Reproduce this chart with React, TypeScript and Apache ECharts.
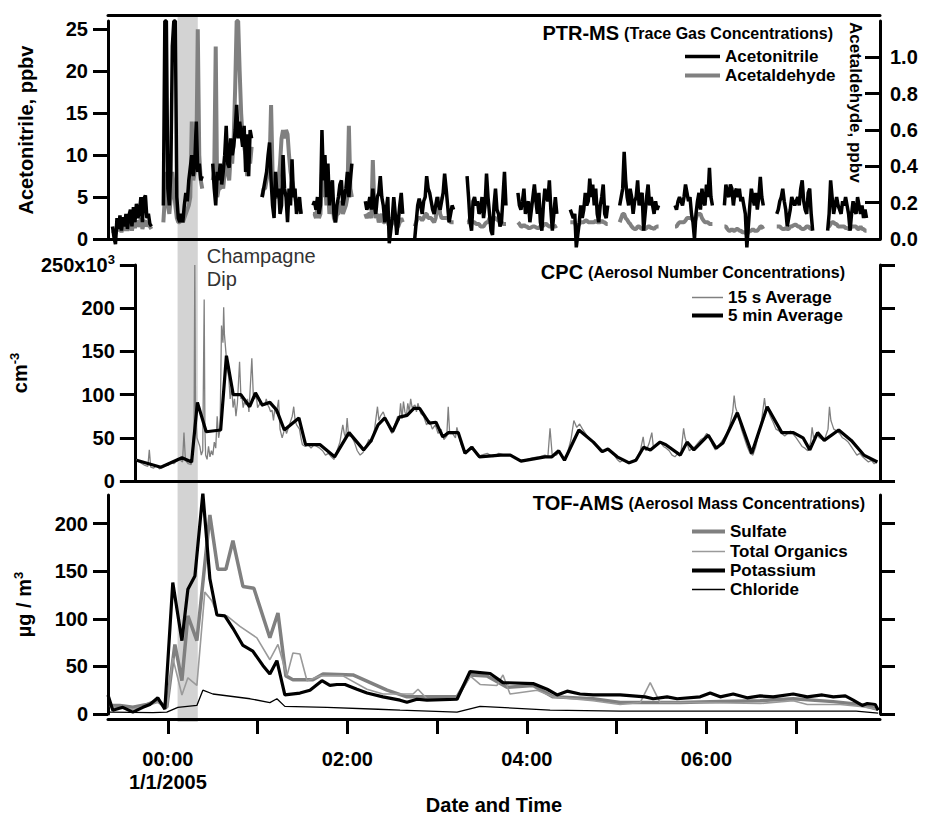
import React, { useEffect, useRef } from 'react';
import * as echarts from 'echarts';

const FONT = '"Liberation Sans", Arial, Helvetica, sans-serif';

// ---------- Time axis (minutes relative to 00:00, 1/1/2005) ----------
const timeMin = -40;
const timeMax = 476;
const hourTicks = [0, 60, 120, 180, 240, 300, 360, 420];
const timeLabelValues = [0, 120, 240, 360];
const timeLabels = ['00:00\n1/1/2005', '02:00', '04:00', '06:00'];
const champagneDip = [6.5, 20];

// ---------- Tick values ----------
const acetonitrileTicks = [0, 5, 10, 15, 20, 25];
const acetaldehydeTicks = [0, 0.2, 0.4, 0.6, 0.8, 1.0];
const cpcTicks = [0, 50, 100, 150, 200, 250];
const amsTicks = [0, 50, 100, 150, 200];

// ---------- PTR-MS (1-min samples per measurement segment) ----------
const ptrSegmentStarts = [-37, -3, 30, 63, 97, 132, 165, 200, 234, 269, 302, 339, 372, 407, 441];

const acetonitrileSegments: number[][] = [
  [1.5, 0.2, -0.6, 2.5, 1.2, 2.8, 1.0, 2.6, 1.5, 3.0, 1.2, 2.8, 3.5, 1.5, 3.8, 2.0, 4.2, 2.5, 3.2, 5.0, 2.0, 4.8, 5.2, 2.5, 3.0, 1.8, 1.5],
  [4, 26, 26, 6, 4, 8, 23, 26, 26, 5, 2.5, 2, 3, 2, 4, 5.5, 4.5, 7, 8.5, 10, 7.5, 9, 14, 8, 9, 7, 7.5],
  [9, 6, 4, 8, 7, 9, 6.5, 8, 10, 13.5, 9, 8.5, 12, 10, 11, 13, 16, 12, 14, 12.5, 11, 13.5, 8, 12.5, 7.5, 13, 12],
  [5, 6, 7, 8, 10, 11.5, 7, 4, 2.5, 8, 5, 6, 3, 4, 10, 6, 5, 2, 6, 4, 9.5, 5, 6, 3, 4, 5, 3],
  [4, 4.5, 3.5, 5, 3, 4, 13, 7, 10, 5, 9, 4, 6, 7, 3, 2, 4, 5, 6.5, 7, 4, 5, 6, 8, 5, 7, 9],
  [4.5, 3.5, 4, 5, 3.5, 6, 4, 3, 5, 5.5, 7.5, 5, 4, 2, 3.5, 5, -0.5, 1, 2.5, 5, 3, 0.5, 2, 4, 5.5, 3],
  [0, 2, 4, 4.8, 4, 3, 4.5, 5, 7.5, 6, 5.5, 4.5, 3.5, 3, 4, 5, 4, 3.5, 4.5, 5.5, 7.8, 6, 4, 2, 3, 4, 3.5],
  [7.5, 5, 2, 1, 4.5, 5, 4, 4.5, 3, 3.5, 5, 2.5, 4, 7.8, 5, 3, 1, 0.5, 4, 6, 3.5, 3, 1.5, 2, 5, 8, 4],
  [5.5, 4, 3.5, 4.5, 6, 3, 4, 4.5, 2, 3.5, 5, 6.5, 4.5, 3, 5.5, 2, 1, 4, 6, 5, 4.5, 7, 3.5, 1, 3, 5, 3],
  [3.5, 3, 2.5, 3, -1, 0.5, 2, 4, 2.5, 3.5, 5.5, 4, 4.5, 7.2, 5, 6.5, 4, 6, 3, 2, 4, 5, 6.5, 3, 2.5, 4],
  [4, 5, 6, 10.4, 7, 5, 4, 6, 5, 3, 4.5, 5, 7, 4, 5, 5.5, 1, 3, 5, 6.5, 4, 5, 4, 3, 4.5, 3.5, 4],
  [4, 3.5, 4.5, 5, 4.5, 4, 5, 6.5, 5.5, 4.5, 5, 3, 2, 0, 3, 4.5, 5.5, 3.5, 6, 4.5, 4, 6.5, 5, 8.5, 5, 4],
  [4, 6.5, 5.5, 5, 6.5, 6, 4, 5.5, 6, 5, 6, 4.5, 5, 4, 3, -1, 1.5, 4, 6, 5, 4, 5.5, 3.5, 5, 7.4, 5, 4],
  [3, 3.5, 4.5, 5, 6, 4.5, 3.5, 1.5, 2.5, 3.5, 5, 4.5, 4, 4.5, 5, 4, 6, 7, 4.5, 3.5, 3, 5.5, 6, 3, 1],
  [1, 3, 7, 5, 3, 4, 5, 4, 3.5, 3, 4.5, 4, 5, 4, 3, 1, 3, 4.5, 3.5, 3, 5, 4, 3, 4, 2.5, 3.5, 2.5],
];

const acetaldehydeSegments: number[][] = [
  [0.046, 0.037, 0.028, 0.055, 0.046, 0.069, 0.037, 0.065, 0.046, 0.083, 0.046, 0.069, 0.092, 0.046, 0.092, 0.06, 0.102, 0.069, 0.083, 0.115, 0.055, 0.092, 0.102, 0.069, 0.092, 0.069, 0.055],
  [0.092, 0.231, 0.369, 0.185, 0.138, 0.231, 0.369, 0.277, 0.185, 0.115, 0.092, 0.092, 0.115, 0.092, 0.115, 0.138, 0.162, 0.185, 0.231, 0.646, 0.323, 0.369, 0.415, 1.154, 0.462, 0.323, 0.277],
  [0.323, 0.369, 1.06, 0.231, 0.277, 0.277, 0.323, 0.277, 0.369, 0.415, 0.369, 0.323, 0.462, 0.415, 0.554, 0.831, 1.2, 1.2, 0.923, 0.692, 0.554, 0.508, 0.462, 0.346, 0.508, 0.415, 0.508],
  [0.231, 0.277, 0.277, 0.323, 0.369, 0.415, 0.738, 0.369, 0.277, 0.231, 0.231, 0.323, 0.415, 0.554, 0.6, 0.554, 0.6, 0.577, 0.462, 0.369, 0.323, 0.277, 0.231, 0.185, 0.162, 0.185, 0.138],
  [0.138, 0.138, 0.115, 0.185, 0.115, 0.138, 0.369, 0.231, 0.323, 0.185, 0.277, 0.138, 0.185, 0.208, 0.115, 0.092, 0.138, 0.138, 0.185, 0.208, 0.138, 0.162, 0.185, 0.231, 0.623, 0.277, 0.231],
  [0.138, 0.115, 0.138, 0.138, 0.115, 0.434, 0.185, 0.115, 0.138, 0.092, 0.115, 0.138, 0.092, 0.092, 0.115, 0.092, 0.069, 0.069, 0.092, 0.115, 0.092, 0.069, 0.069, 0.092, 0.115, 0.092],
  [0.069, 0.092, 0.115, 0.115, 0.115, 0.102, 0.115, 0.138, 0.138, 0.115, 0.115, 0.115, 0.102, 0.092, 0.115, 0.185, 0.231, 0.138, 0.115, 0.115, 0.115, 0.115, 0.115, 0.102, 0.092, 0.092, 0.092],
  [0.092, 0.092, 0.115, 0.092, 0.092, 0.092, 0.083, 0.083, 0.083, 0.069, 0.069, 0.069, 0.083, 0.092, 0.092, 0.115, 0.115, 0.102, 0.115, 0.115, 0.106, 0.102, 0.092, 0.092, 0.083, 0.083, 0.083],
  [0.092, 0.083, 0.069, 0.069, 0.078, 0.069, 0.069, 0.06, 0.06, 0.065, 0.069, 0.069, 0.065, 0.06, 0.06, 0.069, 0.069, 0.074, 0.083, 0.083, 0.074, 0.069, 0.069, 0.065, 0.069, 0.069, 0.074],
  [0.092, 0.092, 0.092, 0.092, 0.069, 0.069, 0.083, 0.092, 0.092, 0.092, 0.102, 0.102, 0.092, 0.092, 0.092, 0.092, 0.092, 0.102, 0.092, 0.092, 0.092, 0.102, 0.092, 0.092, 0.083, 0.083],
  [0.092, 0.115, 0.138, 0.138, 0.115, 0.106, 0.092, 0.083, 0.069, 0.06, 0.055, 0.055, 0.069, 0.069, 0.06, 0.055, 0.055, 0.055, 0.06, 0.069, 0.069, 0.06, 0.06, 0.055, 0.065, 0.069, 0.069],
  [0.069, 0.069, 0.083, 0.092, 0.092, 0.092, 0.092, 0.102, 0.115, 0.115, 0.115, 0.115, 0.102, 0.092, 0.115, 0.138, 0.138, 0.138, 0.115, 0.102, 0.092, 0.092, 0.092, 0.083, 0.083, 0.083],
  [0.069, 0.069, 0.055, 0.046, 0.046, 0.055, 0.046, 0.046, 0.055, 0.055, 0.046, 0.046, 0.037, 0.037, 0.037, 0.023, 0.037, 0.046, 0.046, 0.055, 0.046, 0.046, 0.046, 0.055, 0.069, 0.069, 0.055],
  [0.069, 0.069, 0.069, 0.06, 0.055, 0.055, 0.06, 0.055, 0.055, 0.069, 0.069, 0.074, 0.078, 0.078, 0.069, 0.069, 0.06, 0.055, 0.055, 0.06, 0.069, 0.069, 0.06, 0.055, 0.055],
  [0.069, 0.069, 0.083, 0.092, 0.092, 0.083, 0.083, 0.069, 0.069, 0.069, 0.069, 0.069, 0.06, 0.06, 0.055, 0.055, 0.069, 0.069, 0.069, 0.069, 0.055, 0.055, 0.069, 0.055, 0.055, 0.046, 0.046],
];

// ---------- CPC (thousand particles per cm3) ----------
const cpc5min: number[][] = [
  [-38.8, 24], [-22, 16], [-7.4, 27], [-0.7, 22], [3.3, 91], [9.4, 57], [19.4, 59], [23.4, 145],
  [28.1, 100], [33.4, 100], [39.5, 86], [43.5, 102], [48.2, 88], [53.5, 91], [58.2, 82], [63.5, 59],
  [73.6, 73], [78.2, 42], [88.3, 42], [98.3, 28], [108.3, 56], [118.4, 36], [123.7, 47], [128.4, 65],
  [133.1, 73], [138.4, 57], [143.1, 74], [148.5, 76], [153.2, 84], [157.2, 84], [163.9, 67], [168.5, 68],
  [173.2, 51], [177.2, 56], [183.9, 56], [188.6, 32], [193.3, 39], [198.6, 28], [213.3, 30], [220, 30],
  [227.4, 23], [244.1, 28], [248.8, 28], [253.5, 35], [257.5, 24], [267.5, 59], [277.5, 45], [283.6, 34],
  [287.6, 37], [294, 28], [302.3, 21], [307, 24], [312.3, 39], [317, 36], [323.7, 45], [327.7, 42],
  [337.7, 30], [342.4, 45], [347.1, 36], [357.1, 53], [362.5, 38], [367.2, 44], [377.2, 79], [387.2, 32],
  [397.9, 86], [408, 56], [416, 56], [422.7, 50], [427.4, 36], [432.8, 56], [437.4, 47], [447.4, 59],
  [456.1, 47], [464.8, 30], [474.2, 22],
];

const cpc15s: number[][] = [
  [-39, 25], [-37, 22], [-35, 20], [-33, 18], [-31, 17], [-30, 36], [-29, 16], [-27, 15], [-25, 18], [-23, 14],
  [-21, 17], [-19, 19], [-17, 18], [-15, 22], [-13, 20], [-11, 23], [-9, 25], [-7, 22], [-6, 56], [-5, 24],
  [-3, 20], [-1, 19], [0, 40], [1, 60], [1.5, 250], [2, 80], [3, 50], [4, 45], [5, 40], [6, 30], [7, 35],
  [8, 210], [8.5, 60], [9, 30], [10, 25], [11, 40], [12, 28], [13, 35], [14, 30], [15, 45], [16, 38], [17, 75],
  [18, 50], [19, 60], [20, 180], [21, 160], [21.5, 201], [22, 170], [23, 150], [24, 130], [25, 120], [26, 95],
  [27, 110], [28, 85], [29, 95], [30, 75], [31, 90], [32.5, 138], [33.5, 95], [34, 100], [35, 85], [36, 92],
  [37, 88], [38, 95], [39, 80], [41, 142], [42, 100], [43, 95], [44, 100], [45, 85], [46, 88], [47, 92],
  [48, 86], [49, 90], [50, 88], [51, 95], [52, 88], [53, 85], [54, 80], [55, 82], [56, 70], [57, 85], [58, 78],
  [59.5, 94], [60.5, 60], [62, 50], [64, 62], [65, 55], [67, 65], [69, 75], [70, 86], [71, 70], [72, 65],
  [74, 60], [75, 50], [76, 42], [78, 40], [80, 42], [82, 38], [84, 42], [86, 40], [88, 38], [90, 35], [92, 30],
  [94, 32], [96, 28], [98, 25], [100, 35], [102, 45], [103, 55], [104, 65], [105, 55], [106, 50], [107, 73],
  [108, 52], [110, 52], [112, 45], [114, 35], [116, 30], [118, 33], [120, 40], [122, 48], [124, 45], [126, 60],
  [128, 86], [129, 70], [130, 75], [132, 80], [134, 70], [136, 62], [138, 55], [140, 65], [142, 75], [143, 70],
  [144, 90], [145, 72], [146, 92], [147, 80], [148, 75], [149, 90], [150, 80], [151, 95], [152, 85], [154, 88],
  [155, 80], [156, 90], [157, 84], [158, 78], [160, 75], [162, 65], [164, 70], [166, 60], [168, 65], [170, 55],
  [172, 60], [174, 48], [176, 52], [177, 86], [178, 55], [180, 55], [182, 50], [183, 62], [184, 55], [186, 42],
  [188, 35], [190, 35], [192, 38], [194, 40], [196, 32], [198, 28], [200, 30], [204, 32], [208, 28], [212, 32],
  [216, 30], [220, 30], [224, 26], [228, 24], [232, 25], [236, 27], [240, 28], [244, 30], [246, 28], [247.5, 61],
  [249, 30], [252, 30], [254, 34], [256, 28], [258, 24], [260, 35], [262, 48], [264, 70], [266, 62], [268, 66],
  [270, 60], [272, 55], [274, 50], [276, 47], [278, 44], [280, 40], [282, 35], [284, 33], [286, 35], [288, 37],
  [290, 33], [292, 30], [294, 25], [296, 22], [298, 24], [300, 22], [302, 20], [304, 22], [306, 24], [308, 28],
  [310, 35], [312, 51], [313, 38], [314, 35], [316, 43], [318, 56], [319, 40], [320, 40], [322, 42], [324, 45],
  [326, 40], [328, 38], [330, 35], [332, 30], [334, 28], [336, 32], [338, 30], [340, 61], [341, 50], [342, 45],
  [344, 35], [346, 38], [348, 40], [350, 44], [352, 48], [354, 50], [356, 55], [358, 52], [360, 42], [362, 36],
  [364, 40], [366, 45], [368, 50], [370, 55], [372, 65], [374, 80], [375, 99], [376, 85], [378, 75], [380, 60],
  [382, 50], [384, 40], [386, 32], [388, 30], [390, 40], [392, 55], [394, 70], [396, 96], [397, 82], [398, 85],
  [400, 75], [402, 68], [404, 60], [406, 58], [408, 55], [410, 52], [412, 55], [414, 58], [416, 54], [418, 50],
  [420, 45], [422, 40], [424, 38], [426, 35], [428, 45], [429, 62], [430, 50], [432, 55], [434, 50], [436, 48],
  [438, 50], [440, 60], [441, 86], [442, 70], [443, 65], [444, 60], [446, 58], [448, 55], [450, 50], [452, 48],
  [454, 45], [456, 40], [458, 35], [460, 30], [462, 32], [464, 28], [466, 25], [468, 22], [470, 24], [472, 20],
  [474, 22],
];

// ---------- TOF-AMS (µg/m3) ----------
const sulfate: number[][] = [
  [-38.8, 9], [-32.1, 9], [-23.4, 7], [-14, 10], [-6.7, 14], [-0.7, 7], [4.7, 73], [9.4, 35], [13.4, 103],
  [19.4, 77], [28.1, 209], [33.4, 152], [38.8, 152], [43.5, 182], [50.2, 134], [57.5, 132], [68.2, 80],
  [73.6, 106], [78.9, 40], [83.6, 36], [97, 36], [103.7, 42], [123.7, 41], [146.5, 25], [159.8, 18],
  [193.3, 18], [202, 41], [213.3, 40], [226.7, 28], [244.1, 30], [257.5, 18], [284.2, 16], [302.3, 12],
  [322.4, 12], [342.4, 12], [369.2, 13], [395.9, 14], [418, 16], [444.8, 13], [462.8, 10], [474.8, 5],
];

const totalOrganics: number[][] = [
  [-38.8, 8], [-32.1, 6], [-23.4, 5], [-14, 9], [-6.7, 12], [-0.7, 6], [3.3, 59], [9.4, 20], [13.4, 38],
  [19.4, 30], [24.7, 128], [29.4, 119], [33.4, 103], [39.5, 103], [48.2, 92], [59.5, 80], [68.2, 57],
  [73.6, 73], [79.6, 40], [83.6, 64], [88.3, 63], [93, 35], [101.7, 40], [117, 40], [133.1, 26],
  [143.8, 21], [163.9, 21], [167.2, 26], [173.2, 16], [193.3, 16], [202, 40], [208.7, 31], [220, 30],
  [224, 41], [228.7, 21], [246.8, 25], [257.5, 18], [284.2, 14], [302.3, 10], [315.7, 12], [322.4, 33],
  [329, 12], [355.8, 12], [395.9, 11], [418, 14], [427.4, 10], [449.4, 10], [462.8, 8], [474.8, 5],
];

const potassium: number[][] = [
  [-40, 20], [-36.8, 4], [-30.1, 7], [-23.4, 2], [-16.7, 7], [-12, 10], [-6.7, 17], [-2, 5], [3.3, 138],
  [9.4, 77], [13.4, 131], [18.1, 145], [23.4, 232], [28.1, 142], [32.8, 104], [38.1, 103], [43.5, 90],
  [50.2, 72], [56.8, 66], [63.5, 51], [68.2, 42], [72.9, 56], [78.2, 20], [88.3, 22], [95, 25], [103, 35],
  [108.3, 30], [113, 31], [118.4, 31], [126.4, 26], [133.1, 22], [143.8, 18], [155.2, 14.5], [159.8, 12.4],
  [166.5, 15.5], [173.2, 14.5], [193.3, 15.5], [202, 44.6], [215.4, 42.5], [224, 33], [244.1, 32],
  [253.5, 26], [260.2, 20], [266.9, 24], [275.5, 21], [284.2, 20], [302.3, 20], [319, 18], [324.4, 16],
  [333.7, 18], [340.4, 16], [355.8, 18], [362.5, 22], [369.2, 18], [377.9, 21], [387.2, 17], [395.9, 19],
  [404.6, 18], [418, 21], [427.4, 18], [437.4, 20], [444.8, 18], [452.8, 19], [458.1, 14.5], [464.1, 9],
  [467.5, 11], [472.8, 10], [474.8, 4],
];

const chloride: number[][] = [
  [-38.8, 2], [-10, 1.5], [-0.7, 2], [6.7, 7], [19.4, 9], [23.4, 25], [30.1, 21], [55, 16], [68.2, 12],
  [72.9, 16], [78.2, 8], [106.3, 7], [140.5, 5], [155.2, 4], [193.3, 2], [208.7, 8], [222, 7], [255.5, 4],
  [302.3, 3], [400, 3], [460, 3], [474.8, 1],
];

function segmentsToData(starts: number[], segs: number[][]) {
  const out: (number | null)[][] = [];
  segs.forEach((vals, i) => {
    vals.forEach((v, j) => out.push([starts[i] + j, v]));
    out.push([starts[i] + vals.length - 0.5, null]);
  });
  return out;
}

const BLACK = '#000000';
const GRAY = '#808080';
const LIGHTGRAY = '#9a9a9a';

const axisLineStyle = { color: BLACK, width: 3 };
const tickLabelStyle = { fontFamily: FONT, fontSize: 20, fontWeight: 'bold' as const, color: BLACK };

function xAxisPlain(gridIndex: number, extra: any = {}) {
  return {
    type: 'value', gridIndex, min: timeMin, max: timeMax,
    axisLine: { show: true, onZero: false, lineStyle: axisLineStyle },
    axisTick: { show: false }, axisLabel: { show: false }, splitLine: { show: false },
    ...extra,
  };
}

function yAxisDef(gridIndex: number, position: string, min: number, max: number, ticks: number[], opts: any = {}) {
  return {
    type: 'value', gridIndex, position, min, max,
    axisLine: { show: true, onZero: false, lineStyle: axisLineStyle },
    axisTick: { show: true, length: 15, inside: !!opts.inside, lineStyle: axisLineStyle, customValues: ticks },
    axisLabel: {
      show: opts.labels !== false, customValues: ticks, margin: opts.margin ?? 20,
      formatter: opts.formatter, ...tickLabelStyle, rich: opts.rich,
    },
    splitLine: { show: false },
    name: opts.name, nameLocation: 'middle', nameGap: opts.nameGap ?? 72,
    nameTextStyle: opts.nameTextStyle ?? { ...tickLabelStyle },
  };
}

function legendAt(name: string, left: number, cy: number, h: number, w: number) {
  return {
    data: [name], left, top: cy - 8, itemWidth: w, itemHeight: h, icon: 'rect',
    selectedMode: false, padding: 0, orient: 'vertical',
    textStyle: { fontFamily: FONT, fontSize: 17, fontWeight: 'bold', color: BLACK },
  };
}

function titleAt(main: string, sub: string, right: number, top: number) {
  return {
    text: `{a|${main}} {b|${sub}}`, right, top, padding: 0,
    textStyle: {
      rich: {
        a: { fontFamily: FONT, fontSize: 20, fontWeight: 'bold', color: BLACK },
        b: { fontFamily: FONT, fontSize: 16, fontWeight: 'bold', color: BLACK },
      },
    },
  };
}

const superRich = {
  n: { fontFamily: FONT, fontSize: 20, fontWeight: 'bold', color: BLACK, lineHeight: 24 },
  s: { fontFamily: FONT, fontSize: 13, fontWeight: 'bold', color: BLACK, verticalAlign: 'top', lineHeight: 14 },
};

const option: any = {
  animation: false,
  backgroundColor: '#ffffff',
  textStyle: { fontFamily: FONT },
  grid: [
    { left: 108, top: 21, width: 772, height: 218 },
    { left: 108, top: 265, width: 772, height: 216 },
    { left: 108, top: 495, width: 772, height: 222 },
  ],
  title: [
    titleAt('PTR-MS', '(Trace Gas Concentrations)', 94, 23),
    titleAt('CPC', '(Aerosol Number Concentrations)', 82, 262),
    titleAt('TOF-AMS', '(Aerosol Mass Concentrations)', 62, 493),
  ],
  legend: [
    legendAt('Acetonitrile', 685, 56, 3.5, 35),
    legendAt('Acetaldehyde', 685, 75, 4, 35),
    legendAt('15 s Average', 692, 297, 1.5, 31),
    legendAt('5 min Average', 692, 315, 4, 31),
    legendAt('Sulfate', 692, 531, 4, 33),
    legendAt('Total Organics', 692, 551, 1.5, 33),
    legendAt('Potassium', 692, 570, 4, 33),
    legendAt('Chloride', 692, 589, 1.5, 33),
  ],
  xAxis: [
    xAxisPlain(0),
    xAxisPlain(0, { position: 'top', offset: 6 }),
    xAxisPlain(1),
    xAxisPlain(2, {
      offset: 5,
      axisTick: { show: true, length: 15, lineStyle: axisLineStyle, customValues: hourTicks },
      axisLabel: {
        show: true, customValues: timeLabelValues, margin: 28, lineHeight: 23,
        formatter: (v: number) => timeLabels[timeLabelValues.indexOf(v)] ?? '',
        ...tickLabelStyle,
      },
      name: 'Date and Time', nameLocation: 'middle', nameGap: 76,
      nameTextStyle: { ...tickLabelStyle },
    }),
  ],
  yAxis: [
    yAxisDef(0, 'left', 0, 26, acetonitrileTicks, { name: 'Acetonitrile, ppbv' }),
    yAxisDef(0, 'right', 0, 1.2, acetaldehydeTicks, {
      inside: true, margin: 10, formatter: (v: number) => v.toFixed(1),
    }),
    yAxisDef(1, 'left', 0, 250, cpcTicks, {
      name: '{n|cm}{s|-3}', nameTextStyle: { rich: superRich },
      formatter: (v: number) => (v === 250 ? '{n|250x10}{s|3}' : '{n|' + v + '}'),
      rich: superRich,
    }),
    yAxisDef(1, 'right', 0, 250, cpcTicks, { labels: false }),
    yAxisDef(2, 'left', 0, 230, amsTicks, {
      name: '{n|µg / m}{s|3}', nameTextStyle: { rich: superRich },
    }),
    yAxisDef(2, 'right', 0, 230, amsTicks, { labels: false }),
  ],
  series: [
    {
      name: 'Acetaldehyde', type: 'line', xAxisIndex: 0, yAxisIndex: 1, color: GRAY,
      data: segmentsToData(ptrSegmentStarts, acetaldehydeSegments),
      showSymbol: false, symbol: 'none', lineStyle: { color: GRAY, width: 4 }, clip: false, z: 3,
    },
    {
      name: 'Acetonitrile', type: 'line', xAxisIndex: 0, yAxisIndex: 0, color: BLACK,
      data: segmentsToData(ptrSegmentStarts, acetonitrileSegments),
      showSymbol: false, symbol: 'none', lineStyle: { color: BLACK, width: 3.5 }, clip: false, z: 4,
    },
    {
      name: '15 s Average', type: 'line', xAxisIndex: 2, yAxisIndex: 2, color: GRAY,
      data: cpc15s, showSymbol: false, symbol: 'none', lineStyle: { color: GRAY, width: 1.3 }, z: 3,
    },
    {
      name: '5 min Average', type: 'line', xAxisIndex: 2, yAxisIndex: 2, color: BLACK,
      data: cpc5min, showSymbol: false, symbol: 'none', lineStyle: { color: BLACK, width: 3.2 }, z: 4,
    },
    {
      name: 'Sulfate', type: 'line', xAxisIndex: 3, yAxisIndex: 4, color: GRAY,
      data: sulfate, showSymbol: false, symbol: 'none', lineStyle: { color: GRAY, width: 3.5 }, z: 3,
    },
    {
      name: 'Total Organics', type: 'line', xAxisIndex: 3, yAxisIndex: 4, color: LIGHTGRAY,
      data: totalOrganics, showSymbol: false, symbol: 'none', lineStyle: { color: LIGHTGRAY, width: 1.6 }, z: 4,
    },
    {
      name: 'Potassium', type: 'line', xAxisIndex: 3, yAxisIndex: 4, color: BLACK,
      data: potassium, showSymbol: false, symbol: 'none', lineStyle: { color: BLACK, width: 3.2 }, z: 5,
    },
    {
      name: 'Chloride', type: 'line', xAxisIndex: 3, yAxisIndex: 4, color: BLACK,
      data: chloride, showSymbol: false, symbol: 'none', lineStyle: { color: BLACK, width: 1.3 }, z: 6,
    },
  ],
};

export default function App() {
  const ref = useRef<HTMLDivElement>(null);
  useEffect(() => {
    if (!ref.current) return;
    const chart = echarts.init(ref.current, null, { renderer: 'svg' });
    chart.setOption(option);
    const x1 = chart.convertToPixel({ xAxisIndex: 3 }, champagneDip[0]) as number;
    const x2 = chart.convertToPixel({ xAxisIndex: 3 }, champagneDip[1]) as number;
    chart.setOption({
      graphic: [
        {
          type: 'rect', z: -1, silent: true,
          shape: { x: x1, y: 15, width: x2 - x1, height: 707 },
          style: { fill: '#d3d3d3' },
        },
        {
          type: 'text', z: 10, x: x2 + 9, y: 244,
          style: {
            text: 'Champagne\nDip', fontFamily: FONT, fontSize: 20, fontWeight: 'normal',
            fill: '#333333', lineHeight: 23,
          },
        },
        {
          type: 'text', z: 10, x: 855, y: 22, rotation: -Math.PI / 2,
          style: {
            text: 'Acetaldehyde, ppbv', fontFamily: FONT, fontSize: 17, fontWeight: 'bold',
            fill: BLACK, align: 'left', verticalAlign: 'middle', textAlign: 'left', textVerticalAlign: 'middle',
          },
        },
      ],
    });
    return () => chart.dispose();
  }, []);
  return (
    <div
      ref={ref}
      style={{ position: 'fixed', left: 0, top: 0, width: 927, height: 816, background: '#ffffff' }}
    />
  );
}
